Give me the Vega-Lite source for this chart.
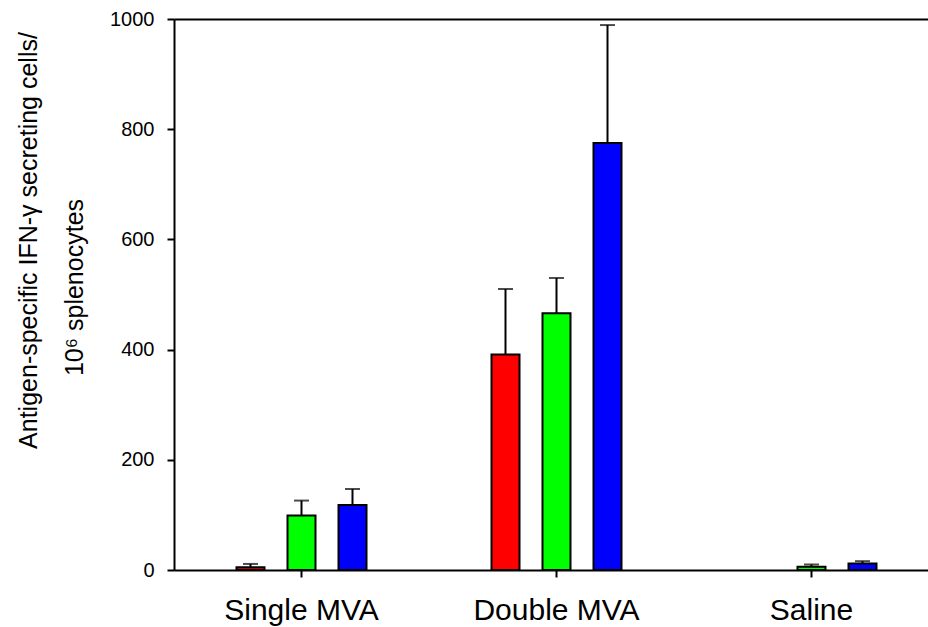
{
  "$schema": "https://vega.github.io/schema/vega-lite/v6.json",
  "width": 754,
  "height": 551,
  "autosize": {"type": "none"},
  "padding": {"left": 174, "top": 19, "right": 0, "bottom": 57},
  "background": "white",
  "config": {
    "font": "Liberation Sans",
    "view": {"stroke": null},
    "axis": {
      "grid": false,
      "domainColor": "black",
      "domainWidth": 2,
      "tickColor": "black",
      "tickWidth": 2,
      "labelColor": "black",
      "titleColor": "black"
    }
  },
  "data": {
    "values": [
      {"group": "Single MVA", "series": "a", "value": 5, "upper": 11},
      {"group": "Single MVA", "series": "b", "value": 99, "upper": 126},
      {"group": "Single MVA", "series": "c", "value": 118, "upper": 147},
      {"group": "Double MVA", "series": "a", "value": 391, "upper": 510},
      {"group": "Double MVA", "series": "b", "value": 466, "upper": 530},
      {"group": "Double MVA", "series": "c", "value": 775, "upper": 989},
      {"group": "Saline", "series": "b", "value": 6, "upper": 10},
      {"group": "Saline", "series": "c", "value": 12, "upper": 16}
    ]
  },
  "resolve": {"axis": {"x": "independent", "y": "independent"}},
  "layer": [
    {
      "mark": {"type": "bar", "stroke": "black", "strokeWidth": 2},
      "encoding": {
        "x": {
          "field": "group", "type": "nominal",
          "sort": ["Single MVA", "Double MVA", "Saline"],
          "scale": {"range": [0, 765], "paddingInner": 0, "paddingOuter": 0},
          "axis": {"title": null, "labelAngle": 0, "labelFontSize": 30, "tickSize": 7, "labelPadding": 18}
        },
        "xOffset": {
          "field": "series", "type": "nominal",
          "scale": {"domain": ["p1", "a", "b", "c", "p2"], "paddingInner": 0.451, "paddingOuter": 0.2255}
        },
        "y": {
          "field": "value", "type": "quantitative",
          "scale": {"domain": [0, 1000], "nice": false},
          "axis": {
            "values": [0, 200, 400, 600, 800, 1000],
            "format": "d",
            "labelFontSize": 20,
            "tickSize": 7,
            "labelPadding": 13,
            "title": "10⁶ splenocytes",
            "titleFontSize": 25,
            "titleFontWeight": "normal",
            "titleAngle": -90,
            "titleAlign": "center",
            "titleBaseline": "alphabetic",
            "titleX": -92,
            "titleY": 268
          }
        },
        "color": {
          "field": "series", "type": "nominal",
          "scale": {"domain": ["a", "b", "c"], "range": ["#ff0000", "#00ff00", "#0000ff"]},
          "legend": null
        }
      }
    },
    {
      "mark": {"type": "rule", "strokeWidth": 2, "color": "black"},
      "encoding": {
        "x": {
          "field": "group", "type": "nominal",
          "sort": ["Single MVA", "Double MVA", "Saline"],
          "scale": {"range": [0, 765], "paddingInner": 0, "paddingOuter": 0},
          "axis": null
        },
        "xOffset": {
          "field": "series", "type": "nominal",
          "scale": {"domain": ["p1", "a", "b", "c", "p2"], "paddingInner": 0.451, "paddingOuter": 0.2255}
        },
        "y": {
          "field": "value", "type": "quantitative",
          "scale": {"domain": [0, 1000], "nice": false},
          "axis": {
            "orient": "left",
            "domain": false,
            "ticks": false,
            "labels": false,
            "title": "Antigen-specific IFN-γ secreting cells/",
            "titleFontSize": 25,
            "titleFontWeight": "normal",
            "titleAngle": -90,
            "titleAlign": "center",
            "titleBaseline": "alphabetic",
            "titleX": -138,
            "titleY": 221
          }
        },
        "y2": {"field": "upper"}
      }
    },
    {
      "mark": {"type": "tick", "size": 15, "thickness": 2, "color": "black"},
      "encoding": {
        "x": {
          "field": "group", "type": "nominal",
          "sort": ["Single MVA", "Double MVA", "Saline"],
          "scale": {"range": [0, 765], "paddingInner": 0, "paddingOuter": 0},
          "axis": {"orient": "top", "labels": false, "ticks": false, "title": null, "domain": true, "domainWidth": 2}
        },
        "xOffset": {
          "field": "series", "type": "nominal",
          "scale": {"domain": ["p1", "a", "b", "c", "p2"], "paddingInner": 0.451, "paddingOuter": 0.2255}
        },
        "y": {"field": "upper", "type": "quantitative", "scale": {"domain": [0, 1000], "nice": false}, "axis": null}
      }
    }
  ]
}
